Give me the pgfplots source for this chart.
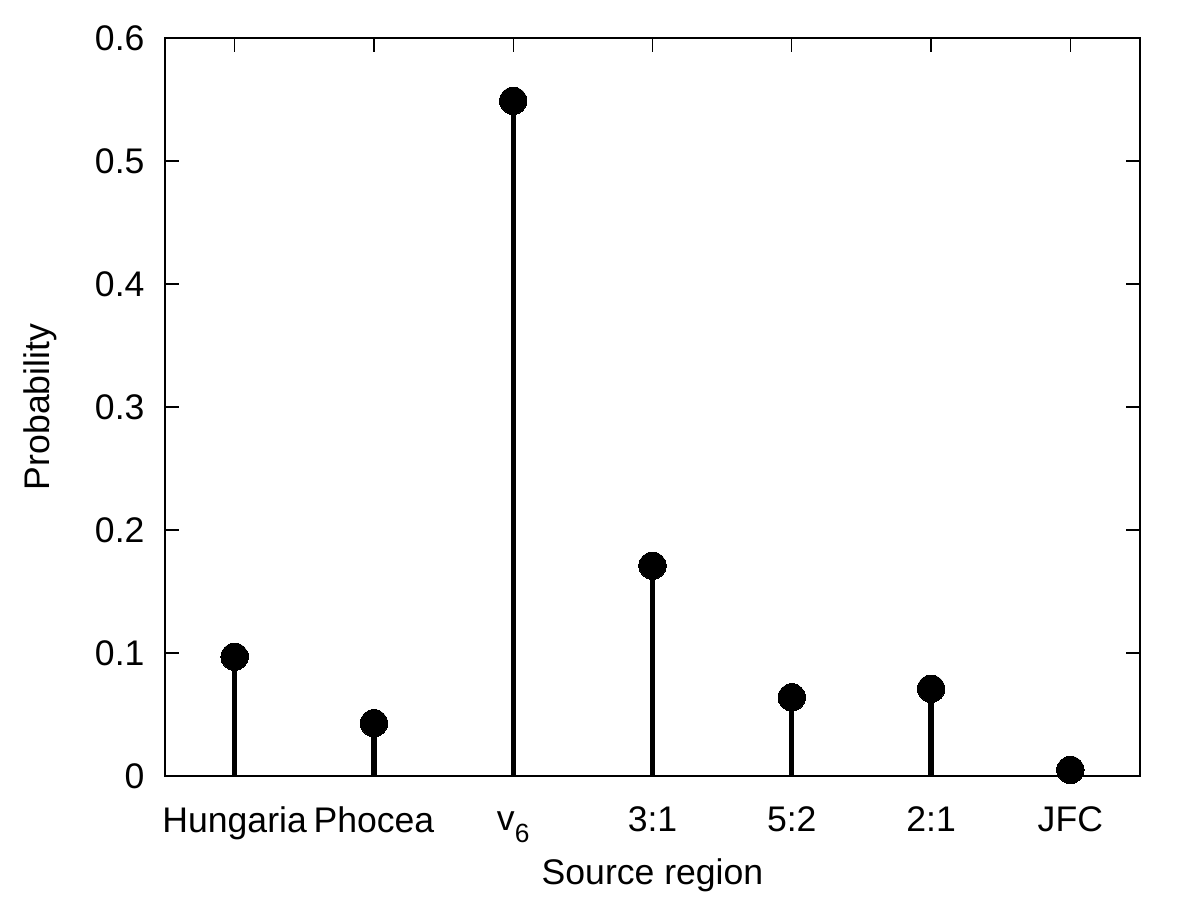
\documentclass[border=0pt]{standalone}
\usepackage{pgfplots}
\pgfplotsset{compat=1.18}
\usepackage{fontspec}
\setmainfont{Liberation Sans}
\begin{document}
\begin{tikzpicture}[font=\fontsize{13.5pt}{16pt}\selectfont]
\useasboundingbox (-2.2cm,-1.653cm) rectangle (13.8cm,10.347cm);
\begin{axis}[
  scale only axis,
  width=13cm, height=9.84cm,
  xmin=-0.5, xmax=6.5,
  ymin=0, ymax=0.6,
  xtick={0,1,2,3,4,5,6},
  xticklabels={Hungaria,Phocea,\vphantom{H}v\raisebox{-0.6ex}{\fontsize{10pt}{12pt}\selectfont 6},3:1,5:2,2:1,JFC},
  ytick={0,0.1,0.2,0.3,0.4,0.5,0.6},
  yticklabels={0,0.1,0.2,0.3,0.4,0.5,0.6},
  tick align=inside,
  major tick length=0.187cm,
  tick style={black, line width=0.5pt},
  axis line style={line width=0.8pt},
  xtick pos=both, ytick pos=both,
  xticklabel style={yshift=-0.28cm},
  yticklabel style={xshift=-0.15cm},
  xlabel={Source region},
  ylabel={Probability},
  xlabel style={yshift=0.02cm},
  ylabel style={yshift=0.27cm},
  /pgf/number format/assume math mode=true,
]
\addplot+[ycomb, black, line width=2pt, mark=*, mark size=5.2pt, mark options={fill=black, line width=0pt}] coordinates {
  (0,0.097) (1,0.043) (2,0.549) (3,0.171) (4,0.064) (5,0.071) (6,0.005)
};
\end{axis}
\end{tikzpicture}
\end{document}
